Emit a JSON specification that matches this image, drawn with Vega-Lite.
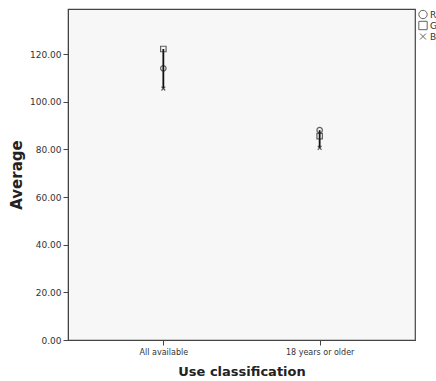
{
  "$schema": "https://vega.github.io/schema/vega-lite/v6.json",
  "autosize": "none",
  "width": 347,
  "height": 331,
  "padding": {"left": 68, "top": 9, "right": 21, "bottom": 41},
  "background": "white",
  "config": {
    "view": {"fill": "#f7f7f7", "stroke": "#444444", "strokeWidth": 1.2},
    "font": "DejaVu Sans"
  },
  "data": {
    "values": [
      {"category": "All available", "series": "R", "value": 114.1},
      {"category": "All available", "series": "G", "value": 122.2},
      {"category": "All available", "series": "B", "value": 105.6},
      {"category": "18 years or older", "series": "R", "value": 88.1},
      {"category": "18 years or older", "series": "G", "value": 85.6},
      {"category": "18 years or older", "series": "B", "value": 80.7}
    ]
  },
  "encoding": {
    "x": {
      "field": "category",
      "type": "nominal",
      "sort": ["All available", "18 years or older"],
      "scale": {"type": "point", "padding": 0.61},
      "axis": {
        "title": "Use classification",
        "titleFont": "DejaVu Sans",
        "titleFontSize": 13,
        "titleFontWeight": "bold",
        "titleColor": "#222222",
        "titlePadding": 9,
        "labelAngle": 0,
        "labelFontSize": 8,
        "labelColor": "#333333",
        "labelPadding": 3,
        "tickColor": "#444444",
        "tickSize": 5,
        "domainColor": "#444444",
        "grid": false
      }
    }
  },
  "layer": [
    {
      "mark": {"type": "rule", "color": "#111111", "strokeWidth": 1.8},
      "encoding": {
        "y": {"aggregate": "min", "field": "value", "type": "quantitative"},
        "y2": {"aggregate": "max", "field": "value"}
      }
    },
    {
      "mark": {"type": "point", "filled": false, "color": "#222222", "strokeWidth": 1.2, "size": 30},
      "encoding": {
        "y": {
          "field": "value",
          "type": "quantitative",
          "scale": {"domain": [0, 139], "nice": false, "zero": true},
          "axis": {
            "title": "Average",
            "titleFont": "DejaVu Sans",
            "titleFontSize": 15,
            "titleFontWeight": "bold",
            "titleColor": "#222222",
            "titlePadding": 5,
            "values": [0, 20, 40, 60, 80, 100, 120],
            "format": ".2f",
            "labelFontSize": 9,
            "labelColor": "#333333",
            "tickColor": "#444444",
            "tickSize": 5,
            "domainColor": "#444444",
            "grid": false
          }
        },
        "shape": {
          "field": "series",
          "type": "nominal",
          "sort": ["R", "G", "B"],
          "scale": {"domain": ["R", "G", "B"], "range": ["circle", "square", "M-0.7,-0.7L0.7,0.7M-0.7,0.7L0.7,-0.7"]},
          "legend": {
            "title": null,
            "orient": "none",
            "legendX": 350,
            "legendY": 0,
            "symbolSize": 70,
            "symbolStrokeColor": "#222222",
            "symbolFillColor": "transparent",
            "symbolStrokeWidth": 1,
            "labelFontSize": 9,
            "labelColor": "#333333",
            "labelOffset": 2,
            "rowPadding": 0,
            "clipHeight": 11,
            "symbolOffset": 0,
            "padding": 0
          }
        }
      }
    }
  ]
}
